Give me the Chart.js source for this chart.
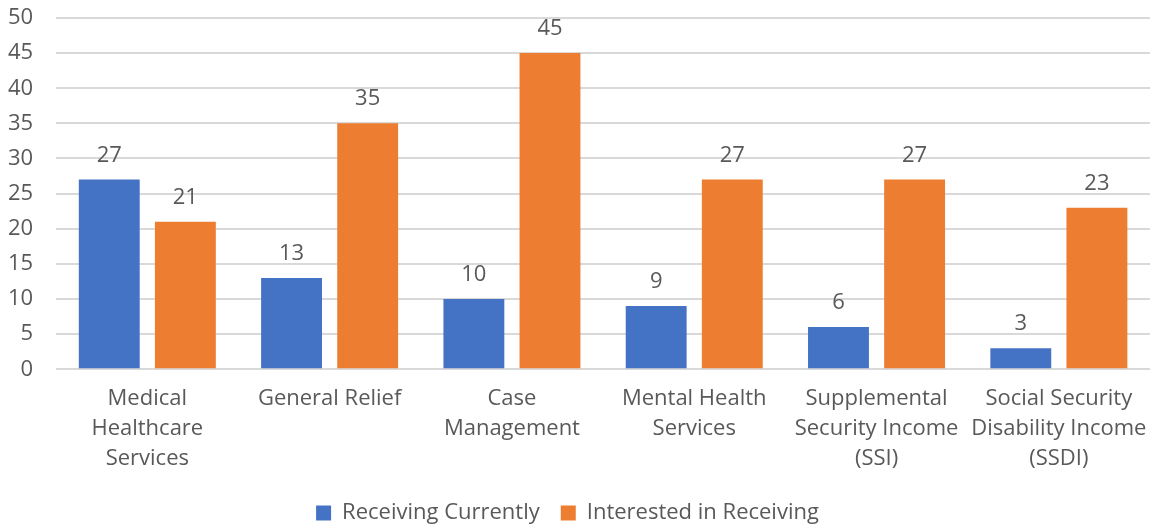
<!DOCTYPE html>
<html>
<head>
<meta charset="utf-8">
<script src="https://cdn.jsdelivr.net/npm/chart.js@4"></script>
<style>
  html, body { margin: 0; padding: 0; background: #fff; }
  #wrap { width: 1154px; height: 525px; position: relative; }
</style>
</head>
<body>
<div id="wrap"><canvas id="benefitsChart"></canvas></div>
<script>
// categories and counts per service
const categories = [
    ["Medical", "Healthcare", "Services"],
    "General Relief",
    ["Case", "Management"],
    ["Mental Health", "Services"],
    ["Supplemental", "Security Income", "(SSI)"],
    ["Social Security", "Disability Income", "(SSDI)"]
];
const receivingCurrently = [27, 13, 10, 9, 6, 3];
const interestedInReceiving = [21, 35, 45, 27, 27, 23];
const yTicks = [0, 5, 10, 15, 20, 25, 30, 35, 40, 45, 50];

const textColor = "#595959";
const fontFamily = "'Open Sans', 'Liberation Sans', sans-serif";
const fontSize = 22;

//-----------------------------------------------------------------------------
// write the value above each bar
//-----------------------------------------------------------------------------
const valueLabels = {
    id: "valueLabels",
    afterDatasetsDraw(chart) {
        const ctx = chart.ctx;
        ctx.save();
        ctx.fillStyle = textColor;
        ctx.font = `${fontSize}px ${fontFamily}`;
        ctx.textAlign = "center";
        ctx.textBaseline = "alphabetic";
        chart.data.datasets.forEach((ds, i) => {
            chart.getDatasetMeta(i).data.forEach((bar, j) => {
                ctx.fillText(ds.data[j], bar.x, bar.y - 18);
            });
        });
        ctx.restore();
    }
};

Chart.defaults.font.family = fontFamily;
Chart.defaults.color = textColor;

const ctx = document.getElementById("benefitsChart").getContext("2d");
new Chart(ctx, {
    type: "bar",
    data: {
        labels: categories,
        datasets: [
            {
                label: "Receiving Currently",
                data: receivingCurrently,
                backgroundColor: "#4472C4",
                categoryPercentage: 0.835,
                barPercentage: 0.8
            },
            {
                label: "Interested in Receiving",
                data: interestedInReceiving,
                backgroundColor: "#ED7D31",
                categoryPercentage: 0.835,
                barPercentage: 0.8
            }
        ]
    },
    options: {
        responsive: true,
        maintainAspectRatio: false,
        animation: false,
        layout: {
            padding: { left: -15, right: 4, top: 18, bottom: -9 }
        },
        plugins: {
            legend: {
                position: "bottom",
                labels: {
                    boxWidth: 15,
                    boxHeight: 15,
                    padding: 21,
                    color: textColor,
                    font: { size: fontSize }
                }
            },
            tooltip: { enabled: false }
        },
        scales: {
            y: {
                min: 0,
                max: 50,
                afterBuildTicks: axis => { axis.ticks = yTicks.map(v => ({ value: v })); },
                // keep the top label overhang from pushing the plot down
                afterFit: axis => { axis.paddingTop = 0; axis.paddingBottom = 0; },
                border: { display: false },
                grid: { color: "#D9D9D9", lineWidth: 2, drawTicks: false },
                ticks: { padding: 23, color: textColor, font: { size: fontSize } }
            },
            x: {
                // bars are offset, so the outer labels fit without extra side room
                afterFit: axis => { axis.paddingLeft = 0; axis.paddingRight = 0; },
                border: { display: false },
                grid: { display: false },
                ticks: {
                    padding: 7,
                    color: textColor,
                    maxRotation: 0,
                    autoSkip: false,
                    font: { size: fontSize, lineHeight: 1.36 }
                }
            }
        }
    },
    plugins: [valueLabels]
});
</script>
</body>
</html>
